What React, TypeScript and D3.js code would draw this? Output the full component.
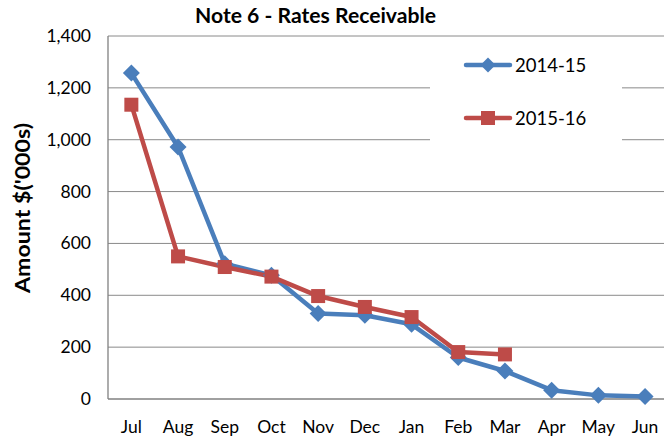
import React from "react";
import * as d3 from "d3";

const months = ["Jul", "Aug", "Sep", "Oct", "Nov", "Dec", "Jan", "Feb", "Mar", "Apr", "May", "Jun"];
const series2014 = [1257, 972, 522, 477, 330, 323, 288, 160, 108, 34, 14, 10];
const series2015 = [1135, 550, 509, 472, 397, 355, 316, 181, 172];
const yTicks = [0, 200, 400, 600, 800, 1000, 1200, 1400];
const seriesNames = ["2014-15", "2015-16"];

const W = 664, H = 439;
const M = { left: 108, top: 36, bottom: 399 };
const bandW = 46.7;
const FONT = "Lato, 'Open Sans', sans-serif";

export default function App() {
  const x = d3.scaleBand<string>().domain(months).range([M.left, M.left + bandW * months.length]);
  const y = d3.scaleLinear().domain([0, 1400]).range([M.bottom, M.top]);
  const cx = (m: string) => (x(m) as number) + x.bandwidth() / 2;
  const line = d3.line<number>().x((_, i) => cx(months[i])).y((d) => y(d));
  const blue = "#4a7ebb";
  const red = "#be4b48";
  const diamond = (px: number, py: number, r: number) => `M${px},${py - r}L${px + r},${py}L${px},${py + r}L${px - r},${py}Z`;

  const legendX = 430, legendW = 192;
  return (
    <svg width={W} height={H} style={{ position: "absolute", left: 0, top: 0, background: "#fff" }}>
      <text x={315.5} y={23} textAnchor="middle" fontFamily={FONT} fontWeight="bold" fontSize={20} textLength={241} lengthAdjust="spacingAndGlyphs" fill="#000">Note 6 - Rates Receivable</text>
      {yTicks.map((t) => (
        <g key={t}>
          {t > 0 && <line x1={M.left} x2={W} y1={y(t)} y2={y(t)} stroke="#8a8a8a" strokeWidth={1} />}
          <text x={91} y={y(t) + 6} textAnchor="end" fontFamily={FONT} fontSize={17.5} fill="#000">{d3.format(",")(t)}</text>
        </g>
      ))}
      <line x1={M.left} x2={M.left} y1={M.top} y2={M.bottom} stroke="#808080" strokeWidth={1.3} />
      <line x1={M.left} x2={W} y1={M.bottom} y2={M.bottom} stroke="#808080" strokeWidth={1.3} />
      {months.map((m) => (
        <text key={m} x={cx(m)} y={433} textAnchor="middle" fontFamily={FONT} fontSize={17.5} fill="#000">{m}</text>
      ))}
      <text transform={`translate(30,208) rotate(-90)`} textAnchor="middle" fontFamily={FONT} fontWeight="bold" fontSize={20} textLength={170} lengthAdjust="spacingAndGlyphs" fill="#000">Amount $('000s)</text>

      <path d={line(series2014) || ""} fill="none" stroke={blue} strokeWidth={4.5} strokeLinejoin="round" />
      <path d={line(series2015) || ""} fill="none" stroke={red} strokeWidth={4.5} strokeLinejoin="round" />
      {series2014.map((v, i) => (
        <path key={"b" + i} d={diamond(cx(months[i]), y(v), 8.5)} fill={blue} />
      ))}
      {series2015.map((v, i) => (
        <rect key={"r" + i} x={cx(months[i]) - 7} y={y(v) - 7} width={14} height={14} fill={red} />
      ))}

      <rect x={legendX} y={40} width={legendW} height={110} fill="#fff" />
      {seriesNames.map((n, i) => {
        const ly = 65 + i * 53;
        const col = i === 0 ? blue : red;
        return (
          <g key={n}>
            <line x1={466} x2={510} y1={ly} y2={ly} stroke={col} strokeWidth={4.5} strokeLinecap="round" />
            {i === 0 ? <path d={diamond(488, ly, 7.5)} fill={col} /> : <rect x={481} y={ly - 7} width={14} height={14} fill={col} />}
            <text x={515} y={ly + 6.5} fontFamily={FONT} fontSize={18.5} fill="#000">{n}</text>
          </g>
        );
      })}
    </svg>
  );
}
